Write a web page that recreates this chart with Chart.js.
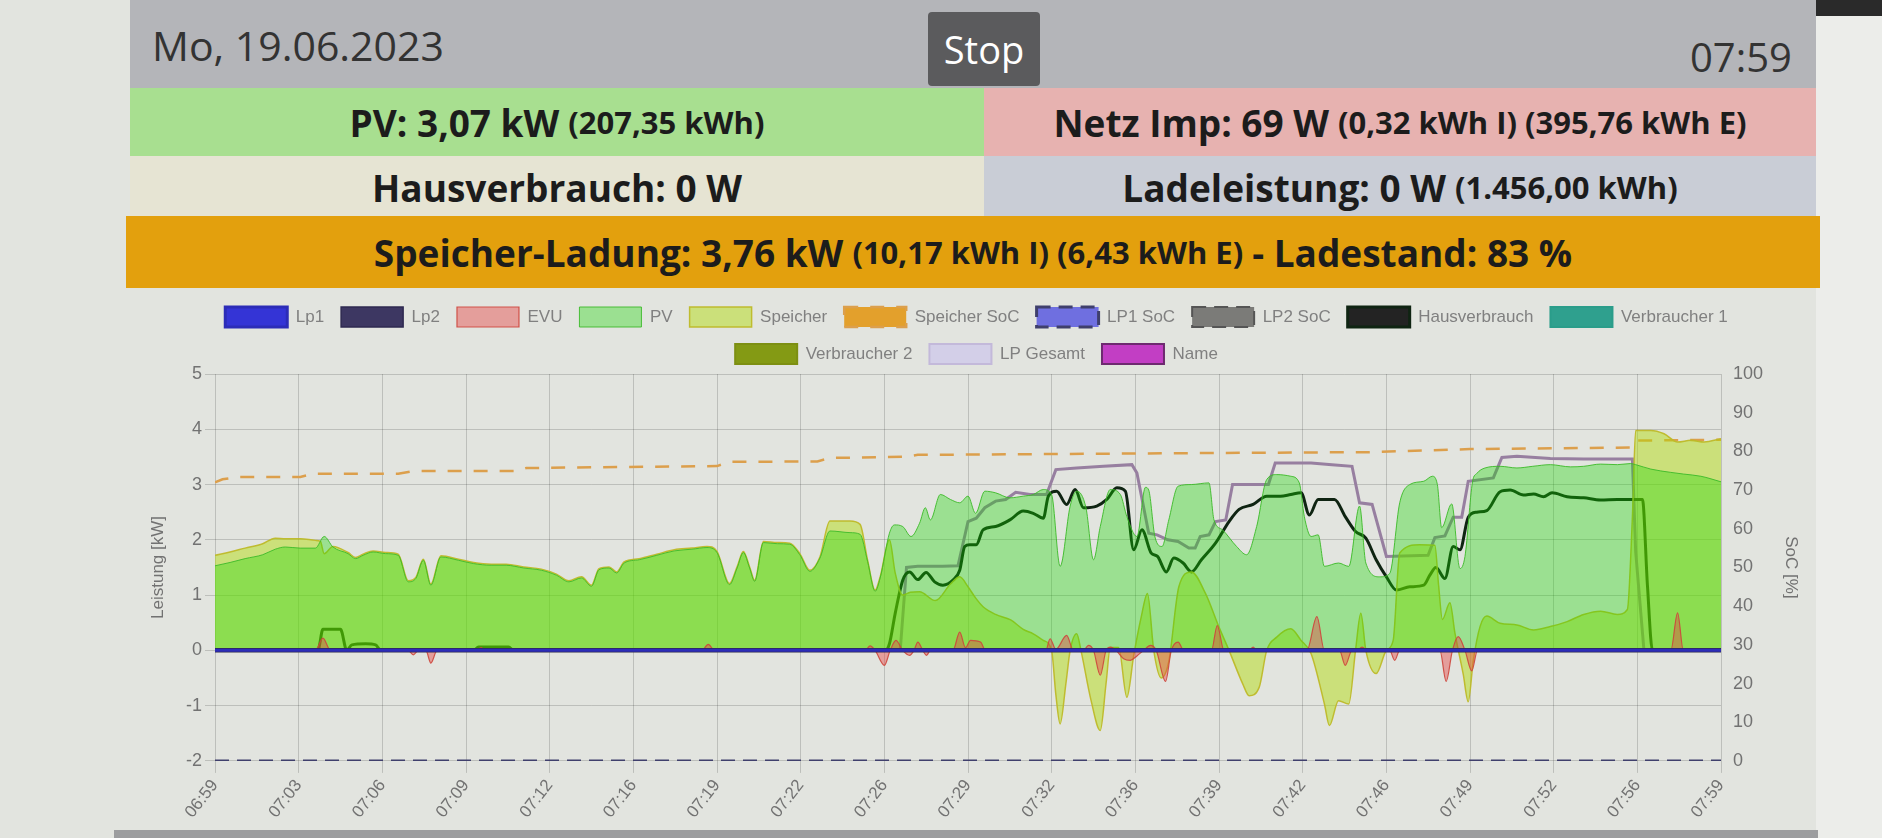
<!DOCTYPE html>
<html><head><meta charset="utf-8">
<script src="https://cdn.jsdelivr.net/npm/chart.js@4.4.0/dist/chart.umd.min.js"></script>
<style>
html,body{margin:0;padding:0;}
body{width:1882px;height:838px;background:#e2e4df;position:relative;overflow:hidden;font-family:"Open Sans","Liberation Sans",sans-serif;}
.abs{position:absolute;}
.box{position:absolute;display:flex;align-items:center;justify-content:center;color:#1c1c1c;font-weight:700;white-space:nowrap;}
.big{font-size:37px;}
.sm{font-size:31px;margin-left:9px;}
</style></head><body>
<div class="abs" style="left:1816px;top:0;width:66px;height:16px;background:#2a2a2a"></div>
<div class="abs" style="left:1816px;top:16px;width:66px;height:822px;background:#ecedea"></div>
<div class="abs" style="left:130px;top:0;width:1686px;height:88px;background:#b4b5b9"></div>
<div class="abs" style="left:152px;top:17px;font-size:41px;color:#333;">Mo, 19.06.2023</div>
<div class="abs" style="left:928px;top:12px;width:112px;height:74px;background:#5b5b5d;border-radius:4px;color:#fff;font-size:38px;display:flex;align-items:center;justify-content:center;">Stop</div>
<div class="abs" style="left:1680px;top:29px;width:112px;text-align:right;font-size:40px;color:#333;">07:59</div>
<div class="box" style="left:130px;top:88px;width:854px;height:68px;background:#a8df90"><span class="big">PV: 3,07 kW</span><span class="sm">(207,35 kWh)</span></div>
<div class="box" style="left:984px;top:88px;width:832px;height:68px;background:#e7b2b0"><span class="big">Netz Imp: 69 W</span><span class="sm">(0,32 kWh I) (395,76 kWh E)</span></div>
<div class="box" style="left:130px;top:156px;width:854px;height:62px;background:#e6e4d3"><span class="big">Hausverbrauch: 0 W</span></div>
<div class="box" style="left:984px;top:156px;width:832px;height:62px;background:#c9cdd6"><span class="big">Ladeleistung: 0 W</span><span class="sm">(1.456,00 kWh)</span></div>
<div class="box" style="left:126px;top:216px;width:1694px;height:72px;background:#e3a00d"><span class="big">Speicher-Ladung: 3,76 kW</span><span class="sm">(10,17 kWh I) (6,43 kWh E)</span><span class="big" style="margin-left:9px">- Ladestand: 83 %</span></div>
<div class="abs" style="left:114px;top:830px;width:1704px;height:8px;background:#9c9d9f"></div>
<canvas id="c" width="1677" height="535" style="position:absolute;left:138px;top:290px"></canvas>
<script>
const tickLabels = ['06:59','07:03','07:06','07:09','07:12','07:16','07:19','07:22','07:26','07:29','07:32','07:36','07:39','07:42','07:46','07:49','07:52','07:56','07:59'];
// [minutes after 06:59, value]
const lp1Power = [[0,0],[60,0]];
const lp2Power = [[0,0],[60,0]];
const evuPower = [[0,0],[0.8,0.02],[1.2,0],[4.0,0],[4.3,0.22],[4.6,0],[7.7,0],[7.9,-0.08],[8.1,0],[8.4,0],[8.6,-0.23],[8.85,0],[10.4,0],[10.6,0.05],[10.8,0],[19.4,0],[19.65,0.11],[19.9,0],[25.9,0],[26.1,0.08],[26.3,0],[26.67,-0.27],[26.9,0],[27.13,0.18],[27.4,0],[27.67,-0.09],[27.85,0],[28.0,0.15],[28.2,0],[28.35,-0.09],[28.5,0],[29.4,0],[29.67,0.33],[29.9,0.05],[30.1,0.18],[30.5,0.15],[30.7,0],[33.1,0],[33.27,0.21],[33.5,0.02],[33.93,0.27],[34.2,0],[34.6,0],[34.8,0.09],[35.0,0],[35.27,-0.45],[35.5,0],[35.67,0.06],[35.9,0],[36.2,-0.15],[36.47,-0.18],[36.73,-0.1],[37.0,0],[37.27,0.09],[37.5,0],[37.87,-0.56],[38.1,0],[38.37,0.15],[38.6,0],[39.7,0],[39.93,0.45],[40.2,0],[41.2,0],[41.36,0.06],[41.5,0],[43.5,0],[43.9,0.61],[44.2,0],[44.8,0],[45.03,-0.27],[45.3,0],[45.5,0],[45.7,0.06],[45.9,0],[46.8,0],[47.0,-0.18],[47.2,0],[48.8,0],[49.05,-0.56],[49.3,0],[49.53,0.25],[49.8,0],[50.07,-0.37],[50.3,0],[58.0,0],[58.27,0.68],[58.5,0],[60,0]];
const pvPower = [[0,1.53],[0.6,1.59],[1.2,1.66],[1.9,1.73],[2.4,1.83],[2.8,1.87],[3.4,1.85],[4.0,1.85],[4.35,2.06],[4.7,1.87],[5.3,1.75],[5.6,1.66],[5.9,1.72],[6.3,1.78],[6.8,1.75],[7.3,1.72],[7.7,1.24],[8.0,1.30],[8.3,1.63],[8.6,1.18],[9.0,1.69],[9.7,1.63],[10.3,1.57],[11.0,1.54],[11.6,1.54],[12.3,1.49],[13.0,1.45],[13.6,1.36],[14.1,1.24],[14.6,1.31],[15.0,1.16],[15.3,1.46],[15.7,1.49],[16.0,1.40],[16.3,1.58],[16.9,1.64],[17.6,1.72],[18.3,1.80],[19.0,1.83],[19.6,1.86],[20.0,1.77],[20.5,1.19],[20.8,1.49],[21.05,1.77],[21.3,1.49],[21.5,1.25],[21.85,1.95],[22.4,1.93],[22.9,1.92],[23.3,1.73],[23.7,1.43],[24.1,1.67],[24.5,2.16],[25.3,2.13],[25.7,2.10],[26.0,1.61],[26.3,1.07],[26.5,1.31],[26.87,2.12],[27.07,2.27],[27.4,2.24],[27.73,2.06],[28.07,2.30],[28.3,2.58],[28.5,2.36],[28.9,2.82],[29.3,2.73],[29.67,2.67],[30.0,2.79],[30.3,2.48],[30.67,2.88],[31.1,2.85],[31.67,2.76],[32.2,2.79],[32.6,2.82],[33.0,2.91],[33.33,2.82],[33.67,1.52],[34.07,2.61],[34.33,2.88],[34.7,2.58],[35.0,1.64],[35.27,2.24],[35.67,2.91],[36.07,2.82],[36.33,2.42],[36.73,2.06],[37.07,2.95],[37.2,2.90],[37.45,2.05],[37.73,1.88],[38.0,2.36],[38.37,2.97],[38.9,3.0],[39.6,3.03],[39.8,2.36],[40.14,2.18],[40.7,1.88],[41.1,1.73],[41.5,2.24],[41.9,3.09],[42.3,3.18],[42.86,3.15],[43.2,3.03],[43.4,2.42],[43.67,2.06],[43.95,2.09],[44.2,1.52],[44.76,1.58],[45.17,1.52],[45.6,2.61],[45.85,1.58],[46.4,1.33],[46.8,1.39],[47.2,2.67],[47.6,3.0],[48.16,3.06],[48.5,3.15],[48.7,3.0],[48.87,2.22],[49.27,2.65],[49.6,1.48],[49.8,1.7],[50.1,3.05],[50.27,3.2],[50.6,3.3],[51.2,3.33],[51.87,3.30],[52.5,3.33],[53.2,3.36],[54.0,3.32],[54.53,3.33],[55.2,3.37],[55.87,3.36],[56.4,3.38],[56.6,3.36],[57.2,3.28],[58.0,3.22],[58.5,3.19],[59.2,3.15],[60,3.05]];
const speicherPower = [[0,1.72],[0.6,1.78],[1.2,1.85],[1.9,1.93],[2.4,2.03],[2.8,2.02],[3.4,2.02],[4.0,1.99],[4.2,1.97],[4.35,1.75],[4.7,1.88],[5.3,1.77],[5.6,1.68],[5.9,1.74],[6.3,1.80],[6.8,1.77],[7.3,1.74],[7.7,1.26],[8.0,1.32],[8.3,1.65],[8.6,1.20],[9.0,1.71],[9.7,1.65],[10.3,1.59],[11.0,1.56],[11.6,1.56],[12.3,1.51],[13.0,1.47],[13.6,1.38],[14.1,1.26],[14.6,1.33],[15.0,1.18],[15.3,1.48],[15.7,1.51],[16.0,1.42],[16.3,1.60],[16.9,1.66],[17.6,1.74],[18.3,1.82],[19.0,1.85],[19.6,1.88],[20.0,1.79],[20.5,1.21],[20.8,1.51],[21.05,1.79],[21.3,1.51],[21.5,1.27],[21.85,1.97],[22.4,1.95],[22.9,1.94],[23.3,1.75],[23.7,1.45],[24.1,1.69],[24.5,2.34],[25.3,2.34],[25.7,2.28],[26.0,1.63],[26.3,1.09],[26.5,1.33],[26.87,2.0],[27.1,1.4],[27.4,1.0],[27.7,1.05],[28.07,1.06],[28.7,0.9],[29.3,1.2],[29.67,1.33],[30.0,1.15],[30.3,0.95],[30.6,0.79],[31.1,0.65],[31.7,0.55],[32.2,0.38],[32.6,0.30],[33.0,0.18],[33.33,0],[33.5,-0.8],[33.67,-1.33],[33.9,-0.6],[34.07,0],[34.33,0.3],[34.5,0],[34.9,-0.9],[35.27,-1.45],[35.5,-0.6],[35.67,0.05],[36.0,0.05],[36.33,-0.85],[36.6,-0.1],[36.9,0.6],[37.15,1.03],[37.4,0],[37.7,-0.5],[38.0,-0.2],[38.4,1.15],[38.9,1.42],[39.46,1.03],[40.0,0.42],[40.4,0],[40.95,-0.61],[41.2,-0.82],[41.6,-0.67],[41.9,0],[42.3,0.24],[42.86,0.39],[43.27,0.18],[43.67,-0.06],[44.2,-0.97],[44.4,-1.36],[44.76,-0.91],[45.17,-0.97],[45.44,0],[45.65,0.67],[45.85,0],[46.26,-0.42],[46.67,0],[46.94,0.18],[47.2,1.76],[48.0,1.91],[48.6,1.9],[48.75,1.17],[48.9,0.56],[49.2,0.86],[49.4,0.31],[49.73,-0.43],[49.93,-0.93],[50.13,-0.19],[50.4,0.43],[50.67,0.62],[51.2,0.49],[51.87,0.46],[52.53,0.37],[53.2,0.43],[53.87,0.52],[54.53,0.65],[55.2,0.71],[55.87,0.65],[56.27,0.74],[56.47,2.41],[56.6,3.98],[57.2,3.98],[57.73,3.92],[58.27,3.77],[58.8,3.80],[59.33,3.77],[60,3.83]];
const speicherSoc = [[0,72.0],[0.3,72.8],[1.0,73.4],[3.4,73.4],[3.9,74.2],[7.3,74.2],[7.9,74.9],[12.0,74.9],[12.4,75.7],[15.4,75.9],[20.0,76.2],[20.5,77.3],[24.0,77.4],[24.5,78.3],[27.5,78.6],[28.0,79.1],[33.0,79.3],[40.0,79.6],[46.0,79.8],[50.0,80.6],[56.4,81.0],[56.6,82.8],[60,83.0]];
const lp1Soc = [[0,0],[60,0]];
const lp2Soc = [[0,0],[60,0]];
const hausverbrauch = [[0,0],[4.1,0],[4.3,0.38],[5.0,0.38],[5.25,0],[5.45,0.1],[6.0,0.12],[6.4,0.1],[6.6,0],[10.3,0],[10.5,0.06],[11.7,0.06],[11.9,0],[26.7,0],[26.87,0.12],[27.1,0.67],[27.4,1.27],[27.67,1.42],[28.0,1.28],[28.33,1.41],[28.67,1.24],[29.0,1.18],[29.4,1.27],[29.67,1.45],[29.87,1.88],[30.07,1.91],[30.33,1.91],[30.6,2.18],[31.1,2.24],[31.67,2.36],[32.2,2.52],[32.6,2.48],[33.0,2.39],[33.2,2.79],[33.53,2.88],[33.93,2.64],[34.27,2.91],[34.6,2.58],[35.13,2.61],[35.53,2.73],[35.93,2.94],[36.27,2.88],[36.6,1.82],[36.93,2.18],[37.3,1.76],[37.55,1.70],[37.9,1.42],[38.2,1.67],[38.57,1.58],[38.9,1.42],[39.3,1.64],[39.86,1.94],[40.4,2.33],[40.8,2.55],[41.36,2.64],[41.9,2.79],[42.45,2.79],[42.86,2.82],[43.27,2.85],[43.6,2.45],[43.95,2.73],[44.6,2.73],[45.03,2.42],[45.44,2.15],[45.85,2.03],[46.26,1.64],[46.67,1.33],[47.07,1.09],[47.6,1.15],[48.16,1.18],[48.4,1.36],[48.64,1.50],[49.0,1.30],[49.33,1.88],[49.6,1.82],[49.93,2.41],[50.27,2.5],[50.67,2.53],[51.2,2.87],[51.6,2.90],[52.13,2.81],[52.53,2.83],[52.93,2.78],[53.27,2.85],[53.87,2.78],[54.53,2.76],[55.2,2.72],[55.87,2.73],[56.87,2.73],[57.07,1.17],[57.27,0],[60,0]];
const verbraucher1 = [];
const verbraucher2 = [];
const lpGesamt = [[0,0],[27.3,0],[27.55,1.5],[28.0,1.52],[29.0,1.52],[29.6,1.53],[30.0,2.33],[30.33,2.39],[30.67,2.58],[31.1,2.70],[31.5,2.73],[31.9,2.86],[32.47,2.82],[33.13,2.82],[33.5,3.27],[34.33,3.30],[35.4,3.33],[36.53,3.36],[36.73,3.21],[37.2,2.12],[37.53,2.09],[37.96,2.0],[38.37,1.97],[38.8,1.85],[39.05,1.85],[39.25,2.06],[39.6,2.09],[39.86,2.33],[40.27,2.36],[40.54,3.0],[41.97,3.0],[42.24,3.39],[43.67,3.39],[44.5,3.36],[45.3,3.33],[45.6,2.67],[46.1,2.64],[46.67,1.70],[48.33,1.72],[48.6,2.04],[49.0,2.07],[49.33,2.41],[49.67,2.41],[49.93,3.06],[50.93,3.12],[51.27,3.49],[51.87,3.51],[53.2,3.47],[54.53,3.46],[56.47,3.46],[56.6,1.79],[56.93,0],[60,0]];
const nameSeries = [];

const xy = a => a.map(p => ({x: p[0], y: p[1]}));
const gridCol = 'rgba(0,0,0,0.16)';
const txtCol = '#727272';
const fontFam = 'Liberation Sans, Arial, sans-serif';

new Chart(document.getElementById('c'), {
  type: 'line',
  data: { datasets: [
    {label:'Lp1', data:xy(lp1Power), borderColor:'#2c2cb8', backgroundColor:'#3434d6', borderWidth:3, yAxisID:'y', fill:false},
    {label:'Lp2', data:xy(lp2Power), borderColor:'#2e2950', backgroundColor:'#3d3762', borderWidth:4.5, yAxisID:'y', fill:false},
    {label:'EVU', data:xy(evuPower), borderColor:'rgba(205,70,60,0.9)', backgroundColor:'rgba(232,62,62,0.42)', borderWidth:1.2, yAxisID:'y', fill:'origin'},
    {label:'PV', data:xy(pvPower), borderColor:'rgba(60,185,40,0.9)', backgroundColor:'rgba(23,219,0,0.35)', borderWidth:1, yAxisID:'y', fill:'origin'},
    {label:'Speicher', data:xy(speicherPower), borderColor:'rgba(190,185,40,0.95)', backgroundColor:'rgba(175,220,0,0.45)', borderWidth:1.5, yAxisID:'y', fill:'origin'},
    {label:'Speicher SoC', data:xy(speicherSoc), borderColor:'#dc9f4c', backgroundColor:'#e3a02c', borderWidth:2.5, borderDash:[14,12], yAxisID:'y2', fill:false, tension:0, cubicInterpolationMode:'default'},
    {label:'LP1 SoC', data:xy(lp1Soc), borderColor:'#3f3f6c', backgroundColor:'#6f6fe0', borderWidth:3, borderDash:[14,8], yAxisID:'y2', fill:false},
    {label:'LP2 SoC', data:xy(lp2Soc), borderColor:'#555', backgroundColor:'#7b7b78', borderWidth:2, borderDash:[14,8], yAxisID:'y2', fill:false},
    {label:'Hausverbrauch', data:xy(hausverbrauch), borderColor:'#0f2412', backgroundColor:'#232323', borderWidth:3, yAxisID:'y', fill:false},
    {label:'Verbraucher 1', data:xy(verbraucher1), borderColor:'#2a9d8a', backgroundColor:'#2fa08e', borderWidth:2, yAxisID:'y', fill:false},
    {label:'Verbraucher 2', data:xy(verbraucher2), borderColor:'#7d8f12', backgroundColor:'#849a14', borderWidth:2, yAxisID:'y', fill:false},
    {label:'LP Gesamt', data:xy(lpGesamt), borderColor:'#977fa0', backgroundColor:'rgba(205,198,235,0.7)', borderWidth:3, yAxisID:'y', fill:false, tension:0, cubicInterpolationMode:'default'},
    {label:'Name', data:xy(nameSeries), borderColor:'#6e2a70', backgroundColor:'#c23ec4', borderWidth:2, yAxisID:'y', fill:false}
  ]},
  options: {
    responsive:false, animation:false, devicePixelRatio:1,
    layout:{padding:{top:0,left:0,right:0,bottom:0}},
    elements:{point:{radius:0}, line:{cubicInterpolationMode:'monotone'}},
    plugins:{
      legend:{position:'top', labels:{boxWidth:62, boxHeight:20, padding:17, color:'#808080', font:{family:fontFam, size:17},
        generateLabels: chart => {
          const items = Chart.defaults.plugins.legend.labels.generateLabels(chart);
          items.forEach(it => {
            if (it.text === 'LP Gesamt') { it.strokeStyle = '#c3b9da'; it.lineWidth = 2; }
            if (it.text === 'Lp2') { it.lineWidth = 1.5; }
          });
          return items;
        }}},
      tooltip:{enabled:false}
    },
    scales:{
      x:{type:'linear', min:0, max:60,
         afterBuildTicks: axis => { axis.ticks = tickLabels.map((_, i) => ({value: i * 60 / (tickLabels.length - 1)})); },
         ticks:{autoSkip:false, maxRotation:52, minRotation:52, color:txtCol, font:{family:fontFam, size:17}, callback:(v, i) => tickLabels[i]},
         grid:{color:gridCol, tickLength:12}, border:{display:false}},
      y:{position:'left', min:-2, max:5, ticks:{stepSize:1, color:txtCol, font:{family:fontFam, size:18}},
         title:{display:true, text:'Leistung [kW]', color:txtCol, font:{family:fontFam, size:17}, padding:{top:10,bottom:0}},
         grid:{color:gridCol, tickLength:10}, border:{display:false},
         afterFit: s => { s.width = 77; }},
      y2:{position:'right', min:0, max:100, ticks:{stepSize:10, color:txtCol, padding:12, font:{family:fontFam, size:18}},
         title:{display:true, text:'SoC [%]', color:txtCol, font:{family:fontFam, size:17}, padding:{top:14,bottom:0}},
         grid:{drawOnChartArea:false, drawTicks:false}, border:{display:false},
         afterFit: s => { s.width = 94; }}
    }
  }
});
</script>
</body></html>
